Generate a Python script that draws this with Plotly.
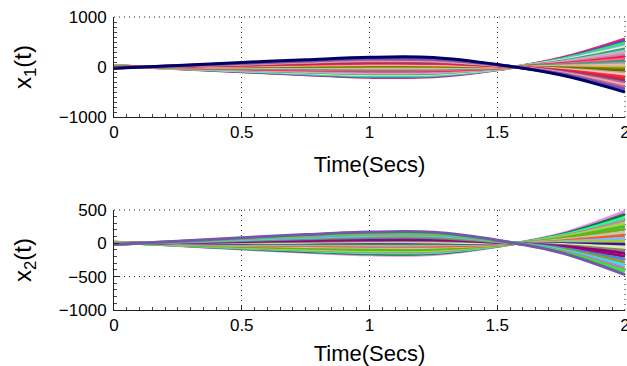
import plotly.graph_objects as go
from plotly.subplots import make_subplots

# ---------------- data ----------------
time_s = [0, 0.25, 0.5, 0.75, 1.0, 1.25, 1.5, 1.75, 2.0]

x1_colors = ["#ff1a66", "#3355ee", "#33ee33", "#66bbee", "#eeeebb", "#2a9d8f",
             "#99ccbb", "#ee99aa", "#cc77cc", "#ee2233", "#ff6688", "#339988",
             "#999999", "#eebb99", "#bbbb77", "#888800", "#666600", "#ccaa77",
             "#ffbbcc", "#ee3344", "#dd2244", "#aa3333", "#9966cc", "#ffaa88",
             "#cc66aa", "#7755aa", "#000066"]
x1_series = [
    [28, -34, -95, -157, -207, -196, -56, 179, 560],
    [26, -31, -88, -146, -192, -182, -52, 166, 520],
    [24, -29, -82, -134, -178, -168, -48, 154, 480],
    [22, -26, -75, -123, -163, -154, -44, 141, 440],
    [20, -24, -68, -112, -148, -140, -40, 128, 400],
    [18, -22, -61, -101, -133, -126, -36, 115, 360],
    [16, -19, -54, -90, -118, -112, -32, 102, 320],
    [14, -17, -48, -78, -104, -98, -28, 90, 280],
    [12, -14, -41, -67, -89, -84, -24, 77, 240],
    [10, -12, -34, -56, -74, -70, -20, 64, 200],
    [8, -10, -27, -45, -59, -56, -16, 51, 160],
    [6, -7, -20, -34, -44, -42, -12, 38, 120],
    [4, -5, -14, -22, -30, -28, -8, 26, 80],
    [2, -2, -7, -11, -15, -14, -4, 13, 40],
    [0, 0, 1, 1, 2, 2, 0, -2, -5],
    [-2, 2, 7, 11, 15, 14, 4, -13, -40],
    [-4, 5, 14, 22, 30, 28, 8, -26, -80],
    [-6, 7, 20, 34, 44, 42, 12, -38, -120],
    [-8, 10, 27, 45, 59, 56, 16, -51, -160],
    [-10, 12, 34, 56, 74, 70, 20, -64, -200],
    [-12, 14, 41, 67, 89, 84, 24, -77, -240],
    [-14, 17, 48, 78, 104, 98, 28, -90, -280],
    [-16, 19, 54, 90, 118, 112, 32, -102, -320],
    [-18, 22, 61, 101, 133, 126, 36, -115, -360],
    [-20, 24, 68, 112, 148, 140, 40, -128, -400],
    [-22, 26, 75, 123, 163, 154, 44, -141, -440],
    [-25, 30, 90, 145, 195, 190, 50, -160, -500],
]

x2_colors = ["#ee88ee", "#117744", "#22ff88", "#bb88aa", "#99dd44", "#55bb22",
             "#77aa22", "#bbccaa", "#ff5522", "#77bbff", "#aacc22", "#3311aa",
             "#ddeeaa", "#888866", "#880088", "#aa0066", "#4488dd", "#999922",
             "#33ddff", "#cc77aa", "#22ee33", "#7755aa"]
x2_series = [
    [19, -34, -86, -134, -173, -168, -48, 144, 480],
    [17, -30, -78, -122, -157, -152, -44, 131, 435],
    [16, -27, -70, -109, -140, -137, -39, 117, 390],
    [14, -24, -62, -97, -124, -121, -35, 104, 345],
    [12, -21, -54, -84, -108, -105, -30, 90, 300],
    [10, -18, -46, -71, -92, -89, -26, 77, 255],
    [8, -15, -38, -59, -76, -74, -21, 63, 210],
    [7, -12, -30, -46, -59, -58, -17, 50, 165],
    [5, -8, -22, -34, -43, -42, -12, 36, 120],
    [3, -5, -14, -21, -27, -26, -8, 23, 75],
    [1, -2, -5, -8, -11, -11, -3, 9, 30],
    [-1, 1, 3, 4, 5, 5, 2, -5, -15],
    [-2, 4, 11, 17, 22, 21, 6, -18, -60],
    [-4, 7, 19, 29, 38, 37, 11, -32, -105],
    [-6, 11, 27, 42, 54, 53, 15, -45, -150],
    [-8, 14, 35, 55, 70, 68, 20, -59, -195],
    [-10, 17, 43, 67, 86, 84, 24, -72, -240],
    [-11, 20, 51, 80, 103, 100, 29, -86, -285],
    [-13, 23, 59, 92, 119, 116, 33, -99, -330],
    [-15, 26, 68, 105, 135, 131, 38, -113, -375],
    [-17, 29, 76, 118, 151, 147, 42, -126, -420],
    [-19, 33, 85, 132, 169, 165, 47, -141, -470],
]

x_ticks = [0, 0.5, 1, 1.5, 2]
x_ticklabels = ["0", "0.5", "1", "1.5", "2"]
y1_ticks = [-1000, 0, 1000]
y2_ticks = [-1000, -500, 0, 500]

# ---------------- figure ----------------
fig = make_subplots(rows=2, cols=1, vertical_spacing=0.0)

for vals, col in zip(x1_series, x1_colors):
    fig.add_trace(go.Scatter(x=time_s, y=vals, mode="lines",
                             line=dict(color=col, width=3, shape="spline"),
                             showlegend=False, hoverinfo="skip"), row=1, col=1)
for vals, col in zip(x2_series, x2_colors):
    fig.add_trace(go.Scatter(x=time_s, y=vals, mode="lines",
                             line=dict(color=col, width=3, shape="spline"),
                             showlegend=False, hoverinfo="skip"), row=2, col=1)

font_family = "Liberation Sans, Arial, Helvetica, sans-serif"
grid_dash = "1px,4px"
grid_col = "#222222"

xcommon = dict(range=[0, 2], tickvals=x_ticks, ticktext=x_ticklabels,
               showgrid=True, gridcolor=grid_col, griddash=grid_dash, gridwidth=1,
               zeroline=False, showline=True, linecolor="#222222", linewidth=1,
               ticks="inside", ticklen=5, tickcolor="#222222",
               minor=dict(ticks="inside", ticklen=3, dtick=0.05, tickcolor="#444444", showgrid=False),
               tickfont=dict(size=17, color="black", family=font_family),
               ticklabeloverflow="allow",
               title=dict(text="Time(Secs)", font=dict(size=22, color="black", family=font_family),
                          standoff=15),
               automargin=False)
ycommon = dict(showgrid=True, gridcolor=grid_col, griddash=grid_dash, gridwidth=1,
               zeroline=False, showline=True, linecolor="#222222", linewidth=1,
               ticks="inside", ticklen=5, tickcolor="#222222",
               tickfont=dict(size=17, color="black", family=font_family),
               ticklabelstandoff=3,
               automargin=False)

fig.update_xaxes(**xcommon, row=1, col=1)
fig.update_xaxes(**xcommon, row=2, col=1)
fig.update_yaxes(**ycommon, range=[-1000, 1000], tickvals=y1_ticks,
                 minor=dict(ticks="inside", ticklen=3, dtick=100, tickcolor="#444444", showgrid=False),
                 title=dict(text="x<sub>1</sub>(t)", font=dict(size=24, color="black", family=font_family),
                            standoff=20),
                 row=1, col=1)
fig.update_yaxes(**ycommon, range=[-1000, 500], tickvals=y2_ticks,
                 minor=dict(ticks="inside", ticklen=3, dtick=100, tickcolor="#444444", showgrid=False),
                 title=dict(text="x<sub>2</sub>(t)", font=dict(size=24, color="black", family=font_family),
                            standoff=20),
                 row=2, col=1)

# dotted borders on the top and right edges (grid lines at the range ends)
for xr, yr in (("x", "y"), ("x2", "y2")):
    fig.add_shape(type="line", xref=f"{xr} domain", yref=f"{yr} domain",
                  x0=0, x1=1, y0=1, y1=1, layer="below",
                  line=dict(color=grid_col, width=1, dash=grid_dash))
    fig.add_shape(type="line", xref=f"{xr} domain", yref=f"{yr} domain",
                  x0=1, x1=1, y0=0, y1=1, layer="below",
                  line=dict(color=grid_col, width=1, dash=grid_dash))

fig.update_layout(
    width=627, height=366,
    margin=dict(l=114, r=2, t=17, b=56),
    paper_bgcolor="white", plot_bgcolor="white",
    font=dict(family=font_family, color="black"),
    xaxis=dict(domain=[0, 1]), xaxis2=dict(domain=[0, 1]),
    yaxis=dict(domain=[0.6587, 1.0]), yaxis2=dict(domain=[0.0, 0.3413]),
)

fig.write_html("out.html")
